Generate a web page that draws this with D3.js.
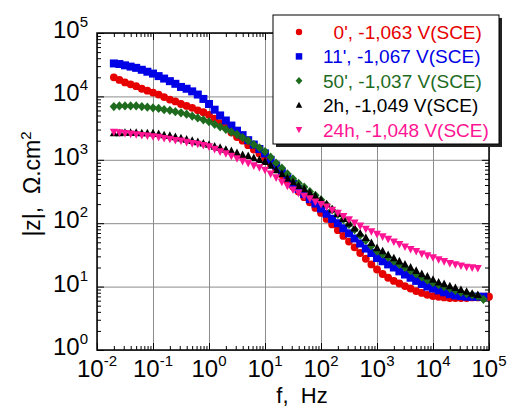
<!DOCTYPE html>
<html>
<head>
<meta charset="utf-8">
<script src="https://cdn.jsdelivr.net/npm/d3@7"></script>
<style>
  body { margin: 0; background: #fff; }
  svg { font-family: "Liberation Sans", Arial, sans-serif; display: block; }
</style>
</head>
<body>
<div id="chart"></div>
<script>
// frequencies, Hz (10 points per decade)
const freqs = [0.02,0.0251,0.0316,0.0398,0.0501,0.0631,0.0794,
  0.1,0.126,0.158,0.2,0.251,0.316,0.398,0.501,0.631,0.794,
  1,1.26,1.58,2,2.51,3.16,3.98,5.01,6.31,7.94,
  10,12.6,15.8,20,25.1,31.6,39.8,50.1,63.1,79.4,
  100,126,158,200,251,316,398,501,631,794,
  1000,1260,1580,2000,2510,3160,3980,5010,6310,7940,
  10000,12600,15800,20000,25100,31600,39800,50100,63100,79400,
  100000];

// |z|, ohm.cm2
const z0min = [20000,18200,16600,15500,14500,13200,12300,11500,10700,9770,8910,8320,7590,7080,6610,6030,5620,5130,
  4470,3800,3240,2690,2290,2000,1700,1450,1260,1070,871,708,575,468,380,316,257,214,174,145,117,95.5,77.6,63.1,
  51.3,41.7,33.9,27.5,22.4,18.6,15.8,13.8,12.3,11.2,10.2,9.33,8.51,7.94,7.41,7.08,6.92,6.76,6.61,6.61,6.61,6.61,
  6.76,6.76,6.92,6.92];
const z11min = [33100,32400,30900,29500,28200,26300,24500,22900,20900,19100,17400,15800,14100,13200,12000,10700,9120,
  7590,6170,5010,4170,3470,2880,2450,2040,1740,1480,1260,1000,813,646,525,417,347,288,240,204,170,141,117,100,83.2,
  69.2,57.5,47.9,39.8,33.9,28.2,25.1,22.4,20.0,17.4,15.5,13.8,12.3,11.0,10.0,9.33,8.71,8.13,7.59,7.24,7.08,6.92,
  6.92,6.92,6.92];
const z50min = [6920,7080,7080,7080,7080,6920,6760,6610,6460,6170,6030,5750,5500,5250,4900,4570,4270,3980,3630,3310,
  3020,2750,2510,2240,2000,1740,1550,1350,1100,891,741,603,501,427,372,316,275,234,195,162,138,115,95.5,79.4,64.6,
  53.7,43.7,36.3,32.4,28.8,25.1,22.4,20.0,17.8,15.8,14.1,12.6,11.5,10.7,10.0,9.33,8.71,8.13,7.76,7.41,7.08,6.31];
const z2h = [2630,2630,2690,2690,2690,2630,2630,2630,2570,2450,2400,2290,2190,2090,2000,1910,1820,1740,1620,1550,
  1450,1380,1290,1200,1150,1070,1000,933,813,692,603,513,447,389,347,302,269,234,200,166,141,117,100,83.2,69.2,
  58.9,49.0,40.7,36.3,31.6,28.2,25.1,22.4,20.0,17.8,15.8,14.5,12.9,11.7,11.0,10.2,9.55,8.91,8.32,7.76,7.41];
const z24h = [2750,2690,2630,2570,2510,2450,2400,2340,2290,2190,2140,2040,2000,1910,1820,1780,1700,1620,1480,1350,
  1260,1150,1050,955,891,813,759,692,603,525,447,389,339,302,269,245,219,200,182,162,145,129,115,102,91.2,81.3,
  74.1,67.6,61.7,56.2,51.3,46.8,42.7,38.9,36.3,33.1,30.9,28.8,26.9,25.1,23.4,22.4,21.4,20.4,20.0,19.5];

const seriesLabels = ["0', -1,063 V(SCE)", "11', -1,067 V(SCE)", "50', -1,037 V(SCE)",
  "2h, -1,049 V(SCE)", "24h, -1,048 V(SCE)"];
const seriesValues = [z0min, z11min, z50min, z2h, z24h];
const colors = ["#e60000", "#0000e6", "#1e6b1e", "#000000", "#ff1493"];
const shapes = ["circle", "square", "diamond", "up", "down"];

const xTicks = [1e-2, 1e-1, 1e0, 1e1, 1e2, 1e3, 1e4, 1e5];
const yTicks = [1e0, 1e1, 1e2, 1e3, 1e4, 1e5];

const width = 510, height = 413;
const margin = {top: 33, right: 21, bottom: 63, left: 97};

const svg = d3.select("#chart").append("svg")
  .attr("width", width).attr("height", height);

const x = d3.scaleLog().domain([1e-2, 1e5]).range([margin.left, width - margin.right]);
const y = d3.scaleLog().domain([1e0, 1e5]).range([height - margin.bottom, margin.top]);

// minor tick values 2..9 in each decade
const minors = (lo, hi) => {
  const out = [];
  for (let e = lo; e < hi; e++) for (let m = 2; m <= 9; m++) out.push(m * Math.pow(10, e));
  return out;
};
const xMinor = minors(-2, 5), yMinor = minors(0, 5);

const innerW = width - margin.left - margin.right;
const innerH = height - margin.top - margin.bottom;

// grid
const grid = svg.append("g");
grid.append("g")
  .attr("transform", `translate(0,${height - margin.bottom})`)
  .call(d3.axisBottom(x).tickValues(xTicks).tickSize(-innerH).tickFormat(""));
grid.append("g")
  .attr("transform", `translate(${margin.left},0)`)
  .call(d3.axisLeft(y).tickValues(yTicks).tickSize(-innerW).tickFormat(""));
grid.selectAll("line").attr("stroke", "#8c8c8c").attr("stroke-width", 1);
grid.selectAll(".domain").remove();

// inward ticks on all four sides
const tickAxes = [
  [() => d3.axisBottom(x), `translate(0,${height - margin.bottom})`, xTicks, xMinor],
  [() => d3.axisTop(x), `translate(0,${margin.top})`, xTicks, xMinor],
  [() => d3.axisLeft(y), `translate(${margin.left},0)`, yTicks, yMinor],
  [() => d3.axisRight(y), `translate(${width - margin.right},0)`, yTicks, yMinor]
];
tickAxes.forEach(([mk, tr, major, minor]) => {
  [[minor, -4], [major, -7]].forEach(([vals, len]) => {
    svg.append("g").attr("transform", tr)
      .call(mk().tickValues(vals).tickSize(len).tickFormat(""))
      .call(g => g.select(".domain").remove())
      .call(g => g.selectAll("line").attr("stroke", "#000").attr("stroke-width", 1));
  });
});

// frame
svg.append("rect")
  .attr("x", margin.left).attr("y", margin.top)
  .attr("width", innerW).attr("height", innerH)
  .attr("fill", "none").attr("stroke", "#000").attr("stroke-width", 1.5);

// tick labels: 10 with superscript exponent
const powLabel = (sel, v) => {
  const e = Math.round(Math.log10(v));
  sel.append("tspan").text("10");
  sel.append("tspan").attr("dy", -11).style("font-size", "15px").text(e);
};
xTicks.forEach(v => {
  svg.append("text")
    .attr("x", x(v)).attr("y", 377)
    .attr("text-anchor", "middle")
    .style("font-size", "24px")
    .call(powLabel, v);
});
yTicks.forEach(v => {
  svg.append("text")
    .attr("x", 88).attr("y", y(v) + 5)
    .attr("text-anchor", "end")
    .style("font-size", "24px")
    .call(powLabel, v);
});

// axis titles
svg.append("text")
  .attr("x", 302).attr("y", 403)
  .attr("text-anchor", "middle")
  .style("font-size", "22px")
  .style("white-space", "pre")
  .text("f,  Hz");

const yTitle = svg.append("text")
  .attr("transform", "translate(40,184) rotate(-90)")
  .attr("text-anchor", "middle")
  .style("font-size", "23px")
  .style("white-space", "pre");
yTitle.append("tspan").text("|z|,  Ω.cm");
yTitle.append("tspan").attr("dy", -9).style("font-size", "15px").text("2");

// marker paths
const marker = (shape, s) => {
  const h = s / 2;
  switch (shape) {
    case "circle": return d3.symbol(d3.symbolCircle, Math.PI * h * h * 0.95)();
    case "square": return `M${-h},${-h}H${h}V${h}H${-h}Z`;
    case "diamond": return `M0,${-h * 1.15}L${h * 1.05},0L0,${h * 1.15}L${-h * 1.05},0Z`;
    case "up": return `M0,${-h * 1.1}L${h},${h * 0.8}L${-h},${h * 0.8}Z`;
    case "down": return `M0,${h * 1.1}L${h},${-h * 0.8}L${-h},${-h * 0.8}Z`;
  }
};

seriesValues.forEach((vals, i) => {
  const pts = vals.map((z, j) => ({f: freqs[j], z: z}));
  svg.append("g").selectAll("path")
    .data(pts)
    .enter().append("path")
    .attr("transform", d => `translate(${x(d.f)},${y(d.z)})`)
    .attr("d", marker(shapes[i], 8))
    .attr("fill", colors[i]);
});

// legend
const lg = svg.append("g");
lg.append("rect").attr("x", 276).attr("y", 18).attr("width", 226).attr("height", 129).attr("fill", "#222");
lg.append("rect").attr("x", 273).attr("y", 15).attr("width", 226).attr("height", 129)
  .attr("fill", "#fff").attr("stroke", "#000").attr("stroke-width", 1);
seriesLabels.forEach((lab, i) => {
  const cy = 32 + i * 24.4;
  lg.append("path")
    .attr("transform", `translate(299,${cy})`)
    .attr("d", marker(shapes[i], 6.5))
    .attr("fill", colors[i]);
  lg.append("text")
    .attr("x", 323).attr("y", cy + 7)
    .style("font-size", "19px")
    .attr("fill", colors[i])
    .text(i === 0 ? "\u2007" + lab : lab);
});
</script>
</body>
</html>
